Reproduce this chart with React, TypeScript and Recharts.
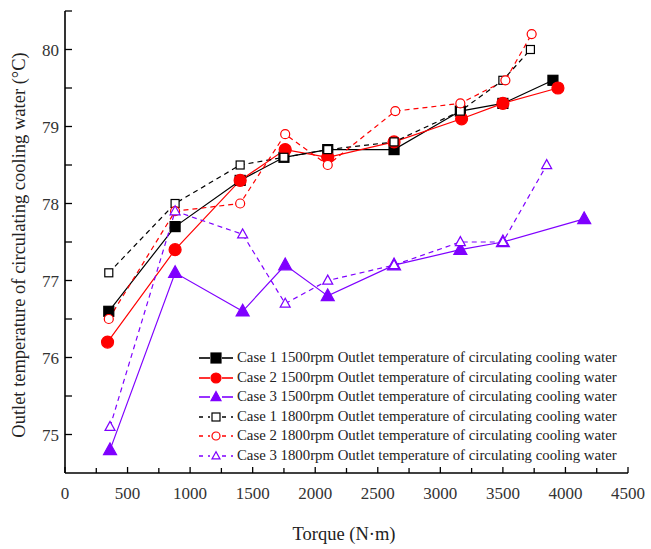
import { Line, LineChart, XAxis, YAxis } from "recharts";

// torque (N·m) for each series
const torqueC1_1500 = [350, 880, 1400, 1750, 2100, 2630, 3160, 3500, 3900];
const torqueC2_1500 = [340, 880, 1400, 1760, 2100, 2630, 3170, 3500, 3940];
const torqueC3_1500 = [360, 880, 1420, 1760, 2100, 2630, 3160, 3500, 4150];
const torqueC1_1800 = [350, 880, 1400, 1750, 2100, 2630, 3160, 3500, 3720];
const torqueC2_1800 = [350, 880, 1400, 1760, 2100, 2640, 3160, 3520, 3730];
const torqueC3_1800 = [360, 880, 1420, 1760, 2100, 2630, 3160, 3500, 3850];

// outlet temperature (°C)
const tempC1_1500 = [76.6, 77.7, 78.3, 78.6, 78.7, 78.7, 79.2, 79.3, 79.6];
const tempC2_1500 = [76.2, 77.4, 78.3, 78.7, 78.6, 78.8, 79.1, 79.3, 79.5];
const tempC3_1500 = [74.8, 77.1, 76.6, 77.2, 76.8, 77.2, 77.4, 77.5, 77.8];
const tempC1_1800 = [77.1, 78.0, 78.5, 78.6, 78.7, 78.8, 79.2, 79.6, 80.0];
const tempC2_1800 = [76.5, 77.9, 78.0, 78.9, 78.5, 79.2, 79.3, 79.6, 80.2];
const tempC3_1800 = [75.1, 77.9, 77.6, 76.7, 77.0, 77.2, 77.5, 77.5, 78.5];

const xTicks = [0, 250, 500, 750, 1000, 1250, 1500, 1750, 2000, 2250, 2500, 2750, 3000, 3250, 3500, 3750, 4000, 4250, 4500];
const yTicks = [75, 75.5, 76, 76.5, 77, 77.5, 78, 78.5, 79, 79.5, 80, 80.5];

const FONT = "'Liberation Serif', 'Times New Roman', serif";
const PURPLE = "#7f00ff";
const RED = "#ff0000";

const zip = (xs: number[], ys: number[]) => xs.map((t, i) => ({ torque: t, temp: ys[i] }));

type Shape = "square" | "circle" | "triangle";

function Marker({ cx, cy, shape, filled, color, size }: any) {
  const fill = filled ? color : "#fff";
  const sw = 1.2;
  if (shape === "square")
    return <rect x={cx - size / 2} y={cy - size / 2} width={size} height={size} fill={fill} stroke={color} strokeWidth={sw} />;
  if (shape === "circle") return <circle cx={cx} cy={cy} r={size / 2} fill={fill} stroke={color} strokeWidth={sw} />;
  const h = size * 0.9;
  return (
    <polygon
      points={`${cx},${cy - h * 0.6} ${cx - size / 2},${cy + h * 0.4} ${cx + size / 2},${cy + h * 0.4}`}
      fill={fill}
      stroke={color}
      strokeWidth={sw}
    />
  );
}

const dotFn = (shape: Shape, filled: boolean, color: string, size: number) => (p: any) => {
  if (p.cx == null || p.cy == null) return <g key={p.key} />;
  return <Marker key={p.key} cx={p.cx} cy={p.cy} shape={shape} filled={filled} color={color} size={size} />;
};

const series = [
  { name: "Case 1 1500rpm Outlet temperature of circulating cooling water", data: zip(torqueC1_1500, tempC1_1500), color: "#000", shape: "square" as Shape, filled: true, size: 10, dash: undefined },
  { name: "Case 2 1500rpm Outlet temperature of circulating cooling water", data: zip(torqueC2_1500, tempC2_1500), color: RED, shape: "circle" as Shape, filled: true, size: 12, dash: undefined },
  { name: "Case 3 1500rpm Outlet temperature of circulating cooling water", data: zip(torqueC3_1500, tempC3_1500), color: PURPLE, shape: "triangle" as Shape, filled: true, size: 13, dash: undefined },
  { name: "Case 1 1800rpm Outlet temperature of circulating cooling water", data: zip(torqueC1_1800, tempC1_1800), color: "#000", shape: "square" as Shape, filled: false, size: 8, dash: "5 4" },
  { name: "Case 2 1800rpm Outlet temperature of circulating cooling water", data: zip(torqueC2_1800, tempC2_1800), color: RED, shape: "circle" as Shape, filled: false, size: 9, dash: "5 4" },
  { name: "Case 3 1800rpm Outlet temperature of circulating cooling water", data: zip(torqueC3_1800, tempC3_1800), color: PURPLE, shape: "triangle" as Shape, filled: false, size: 10, dash: "5 4" },
];

function YTick({ x, y, payload }: any) {
  const major = Number.isInteger(payload.value);
  return (
    <g>
      <line x1={x} x2={x + 7} y1={y} y2={y} stroke="#000" strokeWidth={1.3} />
      {major && payload.value <= 80 && (
        <text x={x - 6} y={y} dy={6} textAnchor="end" fontSize={17} fontFamily={FONT} fill="#333">
          {payload.value}
        </text>
      )}
    </g>
  );
}

function XTick({ x, y, payload }: any) {
  const major = payload.value % 500 === 0;
  return (
    <g>
      <line x1={x} x2={x} y1={y} y2={y - (major ? 6 : 5)} stroke="#000" strokeWidth={1.3} />
      {major && (
        <text x={x} y={y + 26} textAnchor="middle" fontSize={17} fontFamily={FONT} fill="#333">
          {payload.value}
        </text>
      )}
    </g>
  );
}

function LegendBox() {
  return (
    <div
      style={{
        position: "absolute",
        left: 198,
        top: 348,
        fontFamily: FONT,
        fontSize: 14.8,
        color: "#222",
        lineHeight: "19.5px",
      }}
    >
      {series.map((s) => (
        <div key={s.name} style={{ display: "flex", alignItems: "center", whiteSpace: "nowrap", height: 19.5 }}>
          <svg width={36} height={19} style={{ marginRight: 3 }}>
            <line x1={1} x2={12} y1={10} y2={10} stroke={s.color} strokeWidth={1.6} strokeDasharray={s.dash ? "4 5" : undefined} />
            <line x1={24} x2={35} y1={10} y2={10} stroke={s.color} strokeWidth={1.6} strokeDasharray={s.dash ? "4 5" : undefined} />
            <Marker cx={18} cy={10} shape={s.shape} filled={s.filled} color={s.color} size={s.filled ? 10 : 8} />
          </svg>
          <span>{s.name}</span>
        </div>
      ))}
    </div>
  );
}

export default function App() {
  return (
    <div style={{ position: "absolute", left: 0, top: 0, width: 651, height: 549, background: "#fff" }}>
      <LineChart width={651} height={549} margin={{ top: 11, right: 23, left: 25, bottom: 46 }}>
        <XAxis
          type="number"
          dataKey="torque"
          domain={[0, 4500]}
          ticks={xTicks}
          interval={0}
          tickSize={0}
          tickMargin={0}
          height={30}
          axisLine={{ stroke: "#000", strokeWidth: 1.6 }}
          tickLine={false}
          tick={<XTick />}
          allowDuplicatedCategory={false}
          label={{
            content: () => (
              <text x={344} y={540} textAnchor="middle" fontSize={18.5} fontFamily={FONT} fill="#222">
                Torque (N·m)
              </text>
            ),
          }}
        />
        <YAxis
          type="number"
          domain={[74.5, 80.5]}
          ticks={yTicks}
          interval={0}
          tickSize={0}
          tickMargin={0}
          width={40}
          axisLine={{ stroke: "#000", strokeWidth: 1.6 }}
          tickLine={false}
          tick={<YTick />}
          label={{
            content: () => (
              <text
                x={0}
                y={0}
                transform="translate(25,245) rotate(-90)"
                textAnchor="middle"
                fontSize={18.5}
                fontFamily={FONT}
                fill="#222"
              >
                Outlet temperature of circulating cooling water  (°C)
              </text>
            ),
          }}
        />
        {series.map((s) => (
          <Line
            key={s.name}
            data={s.data}
            dataKey="temp"
            name={s.name}
            type="linear"
            stroke={s.color}
            strokeWidth={1.2}
            strokeDasharray={s.dash}
            dot={dotFn(s.shape, s.filled, s.color, s.size)}
            activeDot={false}
            isAnimationActive={false}
          />
        ))}
      </LineChart>
      <LegendBox />
    </div>
  );
}
